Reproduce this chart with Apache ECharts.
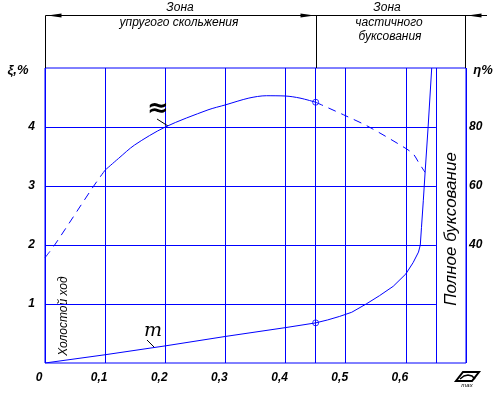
<!DOCTYPE html>
<html>
<head>
<meta charset="utf-8">
<script src="https://cdn.jsdelivr.net/npm/echarts@6/dist/echarts.min.js"></script>
<style>
  html, body { margin: 0; padding: 0; background: #fff; }
  #myChart { width: 504px; height: 398px; }
</style>
</head>
<body>
<div id="myChart"></div>
<script>
// ось абсцисс и сетка
var xTicks = [0, 0.1, 0.2, 0.3, 0.4, 0.5, 0.6, 0.7]
var zoneLines = [0.45, 0.65]
var xiGrid = [1, 2, 3, 4]
var xiLabels = [1, 2, 3, 4]
var etaLabels = [40, 60, 80]

// кривая буксования (левая шкала)
var xiX = [0, 0.1, 0.2, 0.3, 0.4, 0.45, 0.47, 0.49, 0.51, 0.534, 0.556, 0.579, 0.6, 0.612, 0.621, 0.624, 0.626, 0.629, 0.632, 0.637, 0.643]
var xiY = [0, 0.14, 0.29, 0.45, 0.6, 0.68, 0.73, 0.79, 0.86, 1.0, 1.14, 1.3, 1.51, 1.7, 1.88, 2.0, 2.3, 2.75, 3.23, 4.0, 5.0]

// кривая КПД (правая шкала), три участка
var etaDash1X = [0, 0.016, 0.081, 0.1]
var etaDash1Y = [35.7, 40, 60, 65.4]
var etaSolidX = [0.1, 0.122, 0.149, 0.2, 0.271, 0.3, 0.339, 0.368, 0.4, 0.424, 0.45]
var etaSolidY = [65.4, 69.3, 73.9, 80, 85.8, 87.5, 89.8, 90.6, 90.5, 89.8, 88.4]
var etaDash2X = [0.45, 0.5, 0.539, 0.601, 0.613, 0.62, 0.632]
var etaDash2Y = [88.4, 83.8, 80, 72.6, 70.7, 68.4, 64.6]

// точки на границе зон
var markX = [0.45]
var markXi = [0.68]
var markEta = [88.4]

function zip (xs, ys) {
  return xs.map(function (x, i) { return [x, ys[i]] })
}

var BLUE = '#0000ff'
var LABEL_FONT = {
  color: '#000',
  fontFamily: 'Liberation Sans',
  fontStyle: 'italic',
  fontWeight: 'bold',
  fontSize: 12
}

let myChart = echarts.init(document.getElementById('myChart'))

// горизонтальные линии сетки доходят только до 0,65
var gridMarks = xiGrid.map(function (v) {
  return [{ coord: [0, v] }, { coord: [zoneLines[1], v] }]
})
zoneLines.forEach(function (v) {
  gridMarks.push({ xAxis: v })
})

myChart.setOption({
  animation: false,
  grid: {
    left: 45,
    top: 68,
    width: 421,
    height: 295,
    show: true,
    borderColor: BLUE,
    borderWidth: 1,
    backgroundColor: 'transparent'
  },
  xAxis: {
    type: 'value',
    min: xTicks[0],
    max: xTicks[xTicks.length - 1],
    interval: 0.1,
    axisLine: { show: false },
    axisTick: { show: false },
    splitLine: { show: true, lineStyle: { color: BLUE, width: 1 } },
    axisLabel: Object.assign({
      margin: 9,
      padding: [0, 12, 0, 0],
      formatter: function (v) {
        if (v > 0.65) return ''
        if (v === 0) return '0'
        return v.toFixed(1).replace('.', ',')
      }
    }, LABEL_FONT)
  },
  yAxis: [
    {
      type: 'value',
      min: 0,
      max: 5,
      interval: 1,
      axisLine: { show: false },
      axisTick: { show: false },
      splitLine: { show: false },
      axisLabel: Object.assign({
        margin: 10,
        formatter: function (v) {
          return xiLabels.indexOf(v) >= 0 ? String(v) : ''
        }
      }, LABEL_FONT)
    },
    {
      type: 'value',
      min: 0,
      max: 100,
      interval: 20,
      position: 'right',
      axisLine: { show: false },
      axisTick: { show: false },
      splitLine: { show: false },
      axisLabel: Object.assign({
        margin: 3,
        formatter: function (v) {
          return etaLabels.indexOf(v) >= 0 ? String(v) : ''
        }
      }, LABEL_FONT)
    }
  ],
  series: [
    {
      name: 'xi',
      type: 'line',
      yAxisIndex: 0,
      data: zip(xiX, xiY),
      showSymbol: false,
      lineStyle: { color: BLUE, width: 1 },
      markLine: {
        silent: true,
        symbol: 'none',
        label: { show: false },
        lineStyle: { color: BLUE, width: 1, type: 'solid' },
        data: gridMarks
      }
    },
    {
      name: 'eta1',
      type: 'line',
      yAxisIndex: 1,
      data: zip(etaDash1X, etaDash1Y),
      showSymbol: false,
      smooth: 0.3,
      lineStyle: { color: BLUE, width: 1, type: [8, 6] }
    },
    {
      name: 'eta2',
      type: 'line',
      yAxisIndex: 1,
      data: zip(etaSolidX, etaSolidY),
      showSymbol: false,
      smooth: 0.3,
      lineStyle: { color: BLUE, width: 1 }
    },
    {
      name: 'eta3',
      type: 'line',
      yAxisIndex: 1,
      data: zip(etaDash2X, etaDash2Y),
      showSymbol: false,
      smooth: 0.3,
      lineStyle: { color: BLUE, width: 1, type: [8, 6] }
    },
    {
      type: 'scatter',
      yAxisIndex: 0,
      data: zip(markX, markXi),
      symbol: 'circle',
      symbolSize: 6,
      itemStyle: { color: '#fff', borderColor: BLUE, borderWidth: 1 }
    },
    {
      type: 'scatter',
      yAxisIndex: 1,
      data: zip(markX, markEta),
      symbol: 'circle',
      symbolSize: 6,
      itemStyle: { color: '#fff', borderColor: BLUE, borderWidth: 1 }
    }
  ]
})

// шапка с зонами и подписи, привязка к осям через convertToPixel
var pLeft = myChart.convertToPixel({ gridIndex: 0 }, [0, 5])
var pMid = myChart.convertToPixel({ gridIndex: 0 }, [zoneLines[0], 5])
var pRight = myChart.convertToPixel({ gridIndex: 0 }, [0.7, 5])
var topY = 15.5
var gx0 = Math.round(pLeft[0]) + 0.5
var gxm = Math.round(pMid[0]) + 0.5
var gx1 = Math.round(pRight[0]) - 0.5
var gTop = pLeft[1]

function txt (text, x, y, opts) {
  opts = opts || {}
  return {
    type: 'text',
    x: x,
    y: y,
    rotation: opts.rotation || 0,
    silent: true,
    style: {
      text: text,
      x: 0,
      y: 0,
      align: 'center',
      verticalAlign: 'middle',
      fill: '#000',
      fontFamily: opts.family || 'Liberation Sans',
      fontStyle: opts.style || 'italic',
      fontWeight: opts.weight || 'normal',
      fontSize: opts.size || 12
    }
  }
}

function vline (x, y1, y2) {
  return { type: 'line', silent: true, shape: { x1: x, y1: y1, x2: x, y2: y2 }, style: { stroke: '#000', lineWidth: 1 } }
}

function arrow (tip, dir) {
  // dir = -1 указывает влево, 1 вправо
  var base = tip - dir * 14
  return {
    type: 'polygon',
    silent: true,
    shape: { points: [[tip, topY], [base, topY - 2], [base, topY + 2]] },
    style: { fill: '#000' }
  }
}

myChart.setOption({
  graphic: [
    { type: 'line', silent: true, shape: { x1: gx0, y1: topY, x2: 487, y2: topY }, style: { stroke: '#000', lineWidth: 1 } },
    vline(gx0, topY, gTop),
    vline(gxm, topY, gTop),
    vline(gx1, topY, gTop),
    arrow(gx0 + 2, -1),
    arrow(gxm - 2, 1),
    arrow(gx1 + 2, -1),
    txt('Зона', 180, 8),
    txt('упругого скольжения', 179, 23),
    txt('Зона', 387, 8),
    txt('частичного', 389, 23),
    txt('буксования', 390, 37),
    txt('ξ,%', 18, 70, { weight: 'bold', size: 13 }),
    txt('η%', 483, 70, { weight: 'bold', size: 13 }),
    txt('Холостой ход', 64, 316, { rotation: Math.PI / 2 }),
    txt('Полное буксование', 451, 229, { rotation: Math.PI / 2, size: 17 }),
    // подписи кривых
    txt('≈', 158, 109, { weight: 'bold', size: 26, family: 'DejaVu Sans', style: 'normal' }),
    { type: 'line', silent: true, shape: { x1: 157, y1: 119, x2: 168, y2: 126 }, style: { stroke: '#000', lineWidth: 1 } },
    txt('m', 153, 331, { size: 19, family: 'DejaVu Serif' }),
    { type: 'line', silent: true, shape: { x1: 147, y1: 340, x2: 155, y2: 348 }, style: { stroke: '#000', lineWidth: 1 } },
    // значок оси абсцисс
    {
      type: 'polygon',
      silent: true,
      shape: { points: [[463, 372], [479, 372], [472, 381], [456, 381]] },
      style: { fill: 'none', stroke: '#000', lineWidth: 2 }
    },
    {
      type: 'polyline',
      silent: true,
      shape: { points: [[460, 379], [464, 376], [468, 375], [472, 376], [475, 379]] },
      style: { stroke: '#000', lineWidth: 1.5, fill: 'none' }
    },
    txt('max', 467, 385, { size: 6 })
  ]
})
</script>
</body>
</html>
